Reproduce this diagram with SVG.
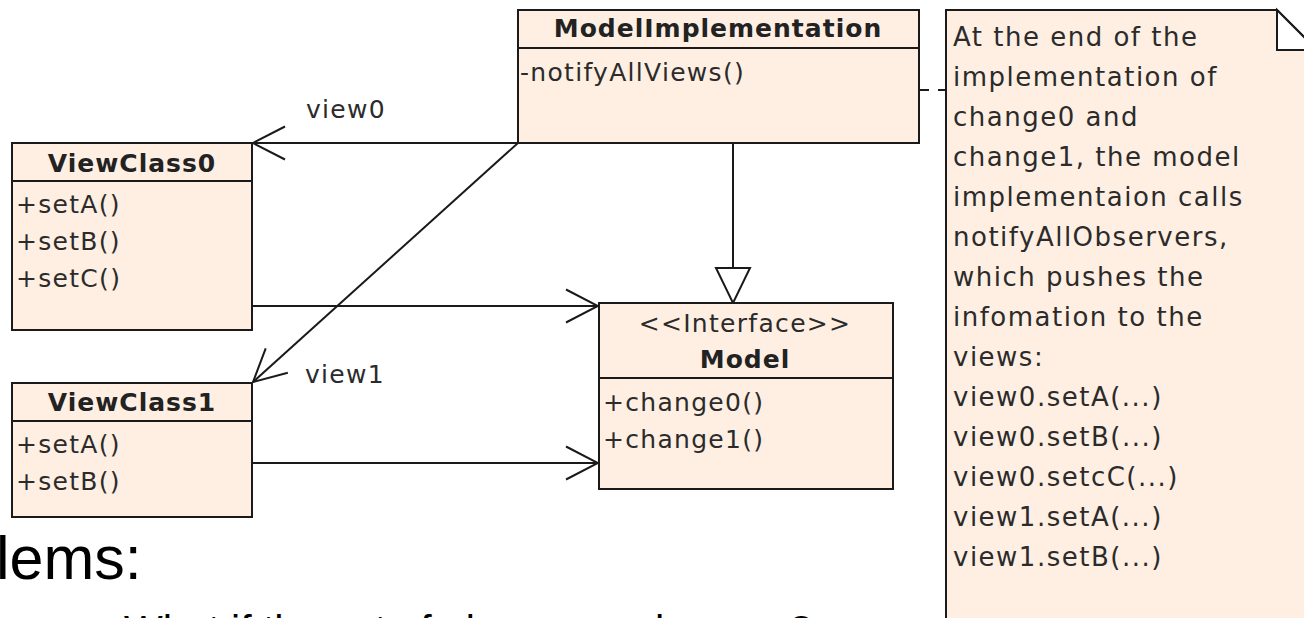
<svg xmlns="http://www.w3.org/2000/svg" width="1304" height="618" viewBox="0 0 1304 618">
<style>
.box{fill:#FEEFE2;stroke:#1a1a1a;stroke-width:2}
.div{stroke:#1a1a1a;stroke-width:2}
.t{font-family:"DejaVu Sans",sans-serif;font-size:25px;letter-spacing:1.3px;fill:#2b2b2b}
.b{font-family:"DejaVu Sans",sans-serif;font-size:25px;font-weight:bold;letter-spacing:1px;fill:#222}
.n{font-family:"DejaVu Sans",sans-serif;font-size:26px;letter-spacing:1.5px;fill:#2b2b2b}
.c{fill:none;stroke:#1a1a1a;stroke-width:2}
.slide{font-family:"Liberation Sans",Arial,sans-serif;fill:#000}
</style>
<defs>
<marker id="open" markerUnits="userSpaceOnUse" viewBox="0 0 36 36" refX="34" refY="18" markerWidth="36" markerHeight="36" orient="auto">
<path d="M2,1.5 L34,18 L2,34.5" fill="none" stroke="#1a1a1a" stroke-width="2"/>
</marker>
</defs>
<rect width="1304" height="618" fill="#fff"/>

<g id="connectors">
<path class="c" d="M518,143 H253" marker-end="url(#open)"/>
<path class="c" d="M518,143 L253,382" marker-end="url(#open)"/>
<path class="c" d="M252,306 H598" marker-end="url(#open)"/>
<path class="c" d="M252,463 H598" marker-end="url(#open)"/>
<path class="c" d="M733,143 V268"/>
<polygon points="716,268 750,268 733,303" fill="#fff" stroke="#1a1a1a" stroke-width="2"/>
<path class="c" d="M919,90 H946" stroke-dasharray="10,9"/>
<text class="t" x="306" y="118">view0</text>
<text class="t" x="305" y="383">view1</text>
</g>

<g id="ModelImplementation">
<rect class="box" x="518" y="10" width="401" height="133"/>
<line class="div" x1="518" y1="48" x2="919" y2="48"/>
<text class="b" x="718" y="37" text-anchor="middle">ModelImplementation</text>
<text class="t" x="520" y="81">-notifyAllViews()</text>
</g>

<g id="ViewClass0">
<rect class="box" x="12" y="143" width="240" height="187"/>
<line class="div" x1="12" y1="181" x2="252" y2="181"/>
<text class="b" x="132" y="172" text-anchor="middle">ViewClass0</text>
<text class="t" x="16" y="213">+setA()</text>
<text class="t" x="16" y="250">+setB()</text>
<text class="t" x="16" y="287">+setC()</text>
</g>

<g id="ViewClass1">
<rect class="box" x="12" y="383" width="240" height="134"/>
<line class="div" x1="12" y1="421" x2="252" y2="421"/>
<text class="b" x="132" y="411" text-anchor="middle">ViewClass1</text>
<text class="t" x="16" y="453">+setA()</text>
<text class="t" x="16" y="490">+setB()</text>
</g>

<g id="Model">
<rect class="box" x="599" y="303" width="294" height="186"/>
<line class="div" x1="599" y1="378" x2="893" y2="378"/>
<text class="t" x="745" y="332" text-anchor="middle">&lt;&lt;Interface&gt;&gt;</text>
<text class="b" x="745" y="368" text-anchor="middle">Model</text>
<text class="t" x="603" y="411">+change0()</text>
<text class="t" x="603" y="448">+change1()</text>
</g>

<g id="Note">
<path d="M946,10 H1277 L1320,53 V640 H946 Z" fill="#FEEFE2" stroke="#1a1a1a" stroke-width="2"/>
<path d="M1277,10 V50 H1317 Z" fill="#fff" stroke="#1a1a1a" stroke-width="2"/>
<text class="n" x="953" y="46">At the end of the</text>
<text class="n" x="953" y="86">implementation of</text>
<text class="n" x="953" y="126">change0 and</text>
<text class="n" x="953" y="166">change1, the model</text>
<text class="n" x="953" y="206">implementaion calls</text>
<text class="n" x="953" y="246">notifyAllObservers,</text>
<text class="n" x="953" y="286">which pushes the</text>
<text class="n" x="953" y="326">infomation to the</text>
<text class="n" x="953" y="366">views:</text>
<text class="n" x="953" y="406">view0.setA(...)</text>
<text class="n" x="953" y="446">view0.setB(...)</text>
<text class="n" x="953" y="486">view0.setcC(...)</text>
<text class="n" x="953" y="526">view1.setA(...)</text>
<text class="n" x="953" y="566">view1.setB(...)</text>
</g>

<g id="slide-text">
<text class="slide" x="-4" y="579" font-size="61">lems:</text>
<text class="slide" x="124" y="644" font-size="41">What if the set of observers changes?</text>
</g>
</svg>
